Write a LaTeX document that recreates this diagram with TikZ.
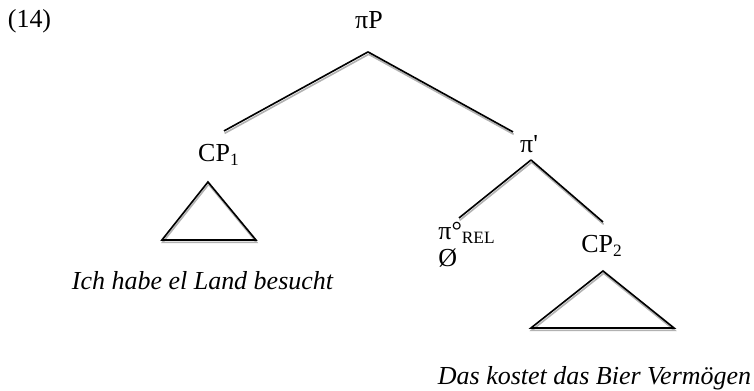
\documentclass[tikz,border=0pt]{standalone}
\usepackage{fontspec}
\setmainfont{Liberation Serif}[Ligatures=TeXOff]

\begin{document}
\begin{tikzpicture}[
    cat/.style={anchor=base, inner sep=0pt, font=\fontsize{12}{14}\selectfont},
    satz/.style={cat, font=\fontsize{12}{14}\selectfont\itshape},
    branch/.style={line width=0.75pt, line join=miter,
        preaction={draw=black!30, line width=0.75pt, transform canvas={shift={(0.3pt,-1.1pt)}}}},
]
    \useasboundingbox (0,0) rectangle (12.24,6.347);

    % Beispielnummer
    \node[cat] (exnum) at (0.479,5.896) {(14)};

    % Kategorien
    \node[cat] (piP) at (5.99,5.877) {πP};
    \node[cat] (cp1) at (3.555,3.718) {CP\textsubscript{1}};
    \node[cat] (pibar) at (8.588,3.864) {π'};
    \node[cat, anchor=base west] (pirel) at (7.11,2.451) {π°\textsubscript{REL}};
    \node[cat, anchor=base west] (zero) at (7.11,2.013) {Ø};
    \node[cat] (cp2) at (9.773,2.24) {CP\textsubscript{2}};

    % Äste
    \draw[branch] ([shift={(-0.016,-0.373)}]piP.base) -- ([shift={(0.081,0.503)}]cp1.base);
    \draw[branch] ([shift={(-0.016,-0.373)}]piP.base) -- ([shift={(-0.26,0.341)}]pibar.base);
    \draw[branch] ([shift={(0.032,-0.114)}]pibar.base) -- ([shift={(0.341,0.357)}]pirel.base west);
    \draw[branch] ([shift={(0.032,-0.114)}]pibar.base) -- ([shift={(0.016,0.503)}]cp2.base);

    % Dreiecke
    \draw[branch] ([shift={(-0.179,-0.325)}]cp1.base) -- ++(-0.747,-0.942) -- ++(1.526,0) -- cycle;
    \draw[branch] ([shift={(0.016,-0.292)}]cp2.base) -- ++(-1.169,-0.925) -- ++(2.321,0) -- cycle;

    % Sätze
    \node[satz] (satz1) at (3.287,1.64) {Ich habe el Land besucht};
    \node[satz] (satz2) at (9.651,0.097) {Das kostet das Bier Vermögen};
\end{tikzpicture}
\end{document}
